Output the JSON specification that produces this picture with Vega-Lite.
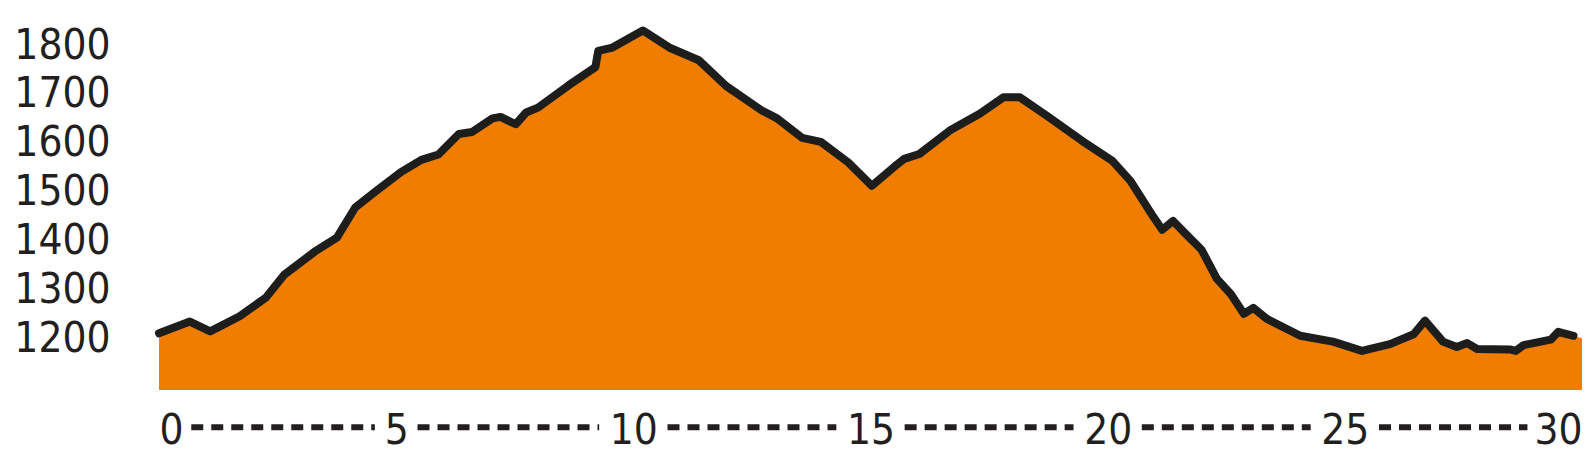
{
  "$schema": "https://vega.github.io/schema/vega-lite/v6.json",
  "width": 1423,
  "height": 384,
  "autosize": "none",
  "padding": {"left": 159, "top": 6, "right": 10, "bottom": 72},
  "background": "white",
  "config": {
    "view": {"stroke": null},
    "axis": {"labelFont": "DejaVu Sans Condensed, Roboto Condensed, Roboto, sans-serif", "labelColor": "#231f20"}
  },
  "datasets": {
    "profile": [
      {"km": 0, "elevation": 1210},
      {"km": 0.65, "elevation": 1234},
      {"km": 1.08, "elevation": 1214},
      {"km": 1.7, "elevation": 1245},
      {"km": 2.25, "elevation": 1283},
      {"km": 2.64, "elevation": 1330},
      {"km": 3.28, "elevation": 1377},
      {"km": 3.75, "elevation": 1406},
      {"km": 4.14, "elevation": 1468},
      {"km": 4.56, "elevation": 1500},
      {"km": 5.1, "elevation": 1540},
      {"km": 5.53, "elevation": 1565},
      {"km": 5.89, "elevation": 1576},
      {"km": 6.32, "elevation": 1618},
      {"km": 6.6, "elevation": 1622},
      {"km": 7.03, "elevation": 1650},
      {"km": 7.2, "elevation": 1653},
      {"km": 7.52, "elevation": 1638},
      {"km": 7.74, "elevation": 1662},
      {"km": 7.99, "elevation": 1672},
      {"km": 8.64, "elevation": 1718},
      {"km": 9.2, "elevation": 1755},
      {"km": 9.26, "elevation": 1788},
      {"km": 9.56, "elevation": 1795},
      {"km": 10.2, "elevation": 1830},
      {"km": 10.78, "elevation": 1794},
      {"km": 11.38, "elevation": 1769},
      {"km": 11.96, "elevation": 1716},
      {"km": 12.71, "elevation": 1666},
      {"km": 13.03, "elevation": 1650},
      {"km": 13.56, "elevation": 1610},
      {"km": 13.95, "elevation": 1602},
      {"km": 14.53, "elevation": 1560},
      {"km": 15.03, "elevation": 1512},
      {"km": 15.49, "elevation": 1550},
      {"km": 15.71, "elevation": 1567},
      {"km": 16.03, "elevation": 1577},
      {"km": 16.67, "elevation": 1625},
      {"km": 17.31, "elevation": 1660},
      {"km": 17.8, "elevation": 1693},
      {"km": 18.15, "elevation": 1693},
      {"km": 18.71, "elevation": 1656},
      {"km": 19.46, "elevation": 1604},
      {"km": 20.1, "elevation": 1563},
      {"km": 20.48, "elevation": 1522},
      {"km": 20.96, "elevation": 1449},
      {"km": 21.15, "elevation": 1422},
      {"km": 21.38, "elevation": 1440},
      {"km": 21.66, "elevation": 1412},
      {"km": 21.98, "elevation": 1381},
      {"km": 22.3, "elevation": 1322},
      {"km": 22.6, "elevation": 1290},
      {"km": 22.87, "elevation": 1250},
      {"km": 23.07, "elevation": 1262},
      {"km": 23.35, "elevation": 1240},
      {"km": 24.06, "elevation": 1205},
      {"km": 24.75, "elevation": 1193},
      {"km": 25.36, "elevation": 1174},
      {"km": 25.95, "elevation": 1188},
      {"km": 26.45, "elevation": 1208},
      {"km": 26.69, "elevation": 1236},
      {"km": 27.07, "elevation": 1193},
      {"km": 27.36, "elevation": 1182},
      {"km": 27.58, "elevation": 1190},
      {"km": 27.79, "elevation": 1178},
      {"km": 28.48, "elevation": 1177},
      {"km": 28.6, "elevation": 1174},
      {"km": 28.77, "elevation": 1186},
      {"km": 29.34, "elevation": 1197},
      {"km": 29.5, "elevation": 1213},
      {"km": 29.82, "elevation": 1205},
      {"km": 30, "elevation": 1200}
    ],
    "dashes": [
      {"start": 0.68, "end": 4.55},
      {"start": 5.45, "end": 9.28},
      {"start": 10.72, "end": 14.28},
      {"start": 15.72, "end": 19.28},
      {"start": 20.72, "end": 24.28},
      {"start": 25.72, "end": 28.85}
    ]
  },
  "layer": [
    {
      "data": {"name": "profile"},
      "mark": {"type": "area", "color": "#f07c00"},
      "encoding": {
        "x": {
          "field": "km",
          "type": "quantitative",
          "scale": {"domain": [0, 30], "nice": false},
          "axis": {
            "title": null,
            "values": [0, 5, 10, 15, 20, 25, 30],
            "format": "d",
            "labelFlush": true,
            "domain": false,
            "ticks": false,
            "grid": false,
            "labelFontSize": 42,
            "labelBaseline": "middle",
            "labelPadding": 40
          }
        },
        "y": {
          "field": "elevation",
          "type": "quantitative",
          "scale": {"domain": [1094, 1880], "nice": false, "zero": false},
          "axis": {
            "title": null,
            "values": [1200, 1300, 1400, 1500, 1600, 1700, 1800],
            "format": "d",
            "domain": false,
            "ticks": false,
            "grid": false,
            "labelFontSize": 42,
            "labelPadding": 49
          }
        },
        "y2": {"datum": 1094}
      }
    },
    {
      "data": {"name": "profile"},
      "transform": [{"filter": "datum.km < 30"}],
      "mark": {"type": "line", "color": "#1d1d1b", "strokeWidth": 8, "strokeJoin": "round", "strokeCap": "round"},
      "encoding": {
        "x": {"field": "km", "type": "quantitative"},
        "y": {"field": "elevation", "type": "quantitative"}
      }
    },
    {
      "data": {"name": "dashes"},
      "mark": {"type": "rule", "color": "#231f20", "strokeWidth": 6, "strokeDash": [12, 8]},
      "encoding": {
        "x": {"field": "start", "type": "quantitative"},
        "x2": {"field": "end"},
        "y": {"datum": 1018}
      }
    }
  ]
}
